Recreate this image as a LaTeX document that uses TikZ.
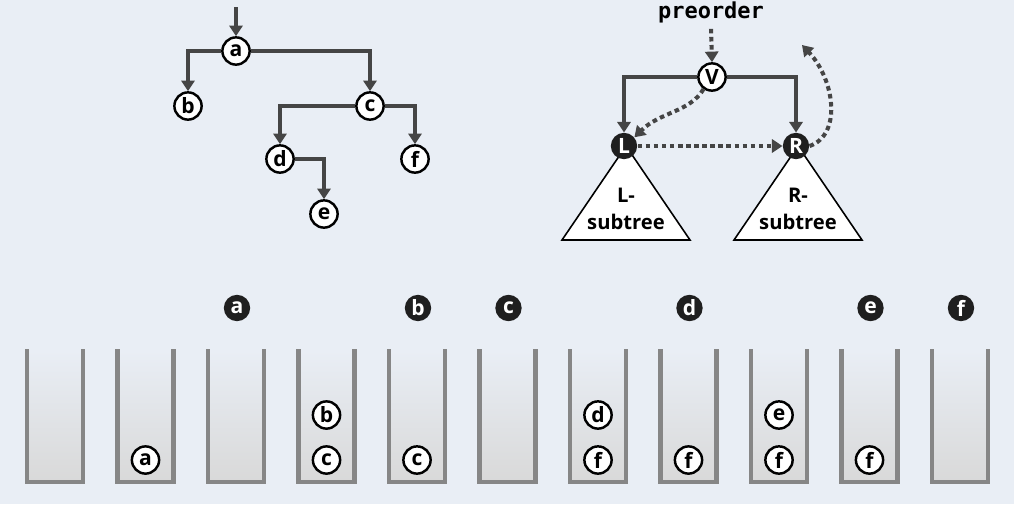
\documentclass[tikz,border=0pt]{standalone}
\usepackage{fontspec}
\setmainfont{Open Sans}
\newfontfamily\codefont{DejaVu Sans Mono}
\usetikzlibrary{
  arrows.meta,
  calc,
  positioning
}
\definecolor{bgblue}{HTML}{E9EEF5}
\definecolor{edgegray}{HTML}{454545}
\definecolor{wallgray}{HTML}{868686}
\tikzset{
  vertex/.style={circle,draw=black,line width=1.4pt,fill=white,inner sep=0pt,
    minimum size=15.5pt,font=\fontsize{12}{12}\selectfont\bfseries},
  visited/.style={circle,fill=black!88,text=white,inner sep=0pt,
    minimum size=15pt,font=\fontsize{12}{12}\selectfont\bfseries},
  treeedge/.style={draw=edgegray,line width=2.3pt,-{Triangle[length=6pt,width=7.5pt]}},
  dotarrow/.style={draw=edgegray,line width=2.3pt,dash pattern=on 2.6pt off 2pt,
    -{Triangle[length=6pt,width=7.5pt]}},
  subtree/.style={draw=black,line width=0.9pt,fill=white,line join=miter},
  wall/.style={draw=wallgray,line width=2.3pt,line join=miter}
}

\begin{document}
\begin{tikzpicture}[x=0.02cm,y=-0.02cm]
  \useasboundingbox[fill=bgblue] (0,0) rectangle (1014,504);

  % example tree
  \coordinate (start) at (236,7);
  \node[vertex] (a) at (236,51) {a};
  \node[vertex] (b) at (188,106) {b};
  \node[vertex] (c) at (370,106) {c};
  \node[vertex] (d) at (280,159) {d};
  \node[vertex] (f) at (415,159) {f};
  \node[vertex] (e) at (324,214) {e};
  \draw[treeedge] (start) -- (a.north);
  \draw[treeedge] (a.west) -| (b.north);
  \draw[treeedge] (a.east) -| (c.north);
  \draw[treeedge] (c.west) -| (d.north);
  \draw[treeedge] (c.east) -| (f.north);
  \draw[treeedge] (d.east) -| (e.north);

  % preorder scheme
  \draw[subtree] (626,146) -- (562,240) -- (690,240) -- cycle;
  \draw[subtree] (798,146) -- (734,240) -- (862,240) -- cycle;
  \node[font=\fontsize{11.5}{15.5}\selectfont\bfseries,align=center] (ltext) at (626,209) {L-\\subtree};
  \node[font=\fontsize{11.5}{15.5}\selectfont\bfseries,align=center] (rtext) at (798,209) {R-\\subtree};

  \node[font=\codefont\fontsize{12.5}{12.5}\selectfont\bfseries] (pre) at (711,12) {preorder};
  \node[vertex] (V) at (712,77) {V};
  \node[visited] (L) at (624,146) {L};
  \node[visited] (R) at (796,146) {R};
  \coordinate (back) at (802,45);
  \draw[treeedge] (V.west) -| (L.north);
  \draw[treeedge] (V.east) -| (R.north);
  \draw[dotarrow] (pre.south) -- (V.north);
  \draw[dotarrow] (V.235) .. controls (690,112) and (660,112) .. (L.40);
  \draw[dotarrow] (L.east) -- (R.west);
  \draw[dotarrow] (R.east) .. controls (842,135) and (835,80) .. (back);

  % stacks
  \foreach \i in {0,...,10} {
    \pgfmathsetmacro\cx{55+90.5*\i}
    \shade[top color=bgblue,bottom color=black!15] ({\cx-28},350) rectangle ({\cx+28},482);
    \draw[wall] ({\cx-28},349) -- ({\cx-28},482) -- ({\cx+28},482) -- ({\cx+28},349);
  }
  \foreach \i/\lbl/\y in {1/a/460,3/b/415,3/c/460,4/c/460,6/d/415,6/f/460,7/f/460,8/e/415,8/f/460,9/f/460}
    \node[vertex] (s\i\lbl) at ({55+90.5*\i},\y) {\lbl};
  \foreach \i/\lbl in {2/a,4/b,5/c,7/d,9/e,10/f}
    \node[visited] (v\lbl) at ({56+90.5*\i},308) {\lbl};
\end{tikzpicture}
\end{document}
